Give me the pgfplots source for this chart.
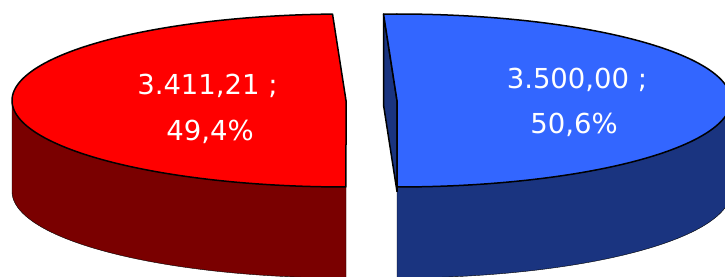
\documentclass[border=0pt]{standalone}
\usepackage{pgfplots}
\pgfplotsset{compat=1.18}
\usepgfplotslibrary{fillbetween}
\usepackage{fontspec}
\setmainfont{DejaVu Sans}
\definecolor{redtop}{HTML}{FF0000}
\definecolor{redside}{HTML}{7A0000}
\definecolor{bluetop}{HTML}{3366FF}
\definecolor{blueside}{HTML}{1A3480}
% data
\pgfmathsetmacro{\vR}{3411.21}
\pgfmathsetmacro{\vB}{3500.00}
\pgfmathsetmacro{\fR}{\vR/(\vR+\vB)}
\pgfmathsetmacro{\aR}{360*\fR}
\pgfmathsetmacro{\tA}{270-\aR}
\pgfmathsetmacro{\tB}{\tA+360}
% geometry (1 unit = 1 px)
\def\rx{334}\def\ry{86.5}\def\dd{91}\def\cy{-100.5}
\def\cxR{346}\def\cxB{397}
\pgfmathsetmacro{\cyb}{\cy-\dd}
\pgfmathsetmacro{\pxB}{\cxB+\rx*cos(\tA)}
\pgfmathsetmacro{\pyB}{\cy+\ry*sin(\tA)}
\pgfmathsetmacro{\pyBb}{\pyB-\dd}
\begin{document}
\begin{tikzpicture}
\begin{axis}[width=725pt,height=276pt,scale only axis,
  xmin=0,xmax=725,ymin=-276,ymax=0,hide axis,clip=true,
  every axis plot/.append style={line width=1.5pt,line join=round}]
% ---- red slice ----
\addplot[draw=none,name path=rtop,domain=180:270,samples=80,variable=\t]
  ({\cxR+\rx*cos(t)},{\cy+\ry*sin(t)});
\addplot[draw=none,name path=rbot,domain=180:270,samples=80,variable=\t]
  ({\cxR+\rx*cos(t)},{\cyb+\ry*sin(t)});
\addplot[fill=redside,draw=black] fill between[of=rtop and rbot];
\addplot[fill=redtop,draw=black,domain=\tA:270,samples=160,variable=\t]
  ({\cxR+\rx*cos(t)},{\cy+\ry*sin(t)}) -- (axis cs:\cxR,\cy) -- cycle;
% ---- blue slice ----
\addplot[fill=blueside,draw=black] coordinates
  {(\cxB,\cy) (\pxB,\pyB) (\pxB,\pyBb) (\cxB,\cyb)} -- cycle;
\addplot[draw=none,name path=btop,domain=270:360,samples=80,variable=\t]
  ({\cxB+\rx*cos(t)},{\cy+\ry*sin(t)});
\addplot[draw=none,name path=bbot,domain=270:360,samples=80,variable=\t]
  ({\cxB+\rx*cos(t)},{\cyb+\ry*sin(t)});
\addplot[fill=blueside,draw=black] fill between[of=btop and bbot];
\addplot[fill=bluetop,draw=black,domain=270:\tB,samples=160,variable=\t]
  ({\cxB+\rx*cos(t)},{\cy+\ry*sin(t)}) -- (axis cs:\cxB,\cy) -- cycle;
% ---- labels ----
\begin{scope}[every node/.style={text=white,anchor=base,inner sep=0pt,
   font=\fontsize{27.5}{33}\selectfont}]
\node at (axis cs:207.5,-94.5) {3.411,21 ;};
\node at (axis cs:210,-140.5) {49,4\%};
\node at (axis cs:577,-88.5) {3.500,00 ;};
\node at (axis cs:574,-134) {50,6\%};
\end{scope}
\end{axis}
\pgfresetboundingbox
\path (current axis.south west) rectangle (current axis.north east);
\end{tikzpicture}
\end{document}
